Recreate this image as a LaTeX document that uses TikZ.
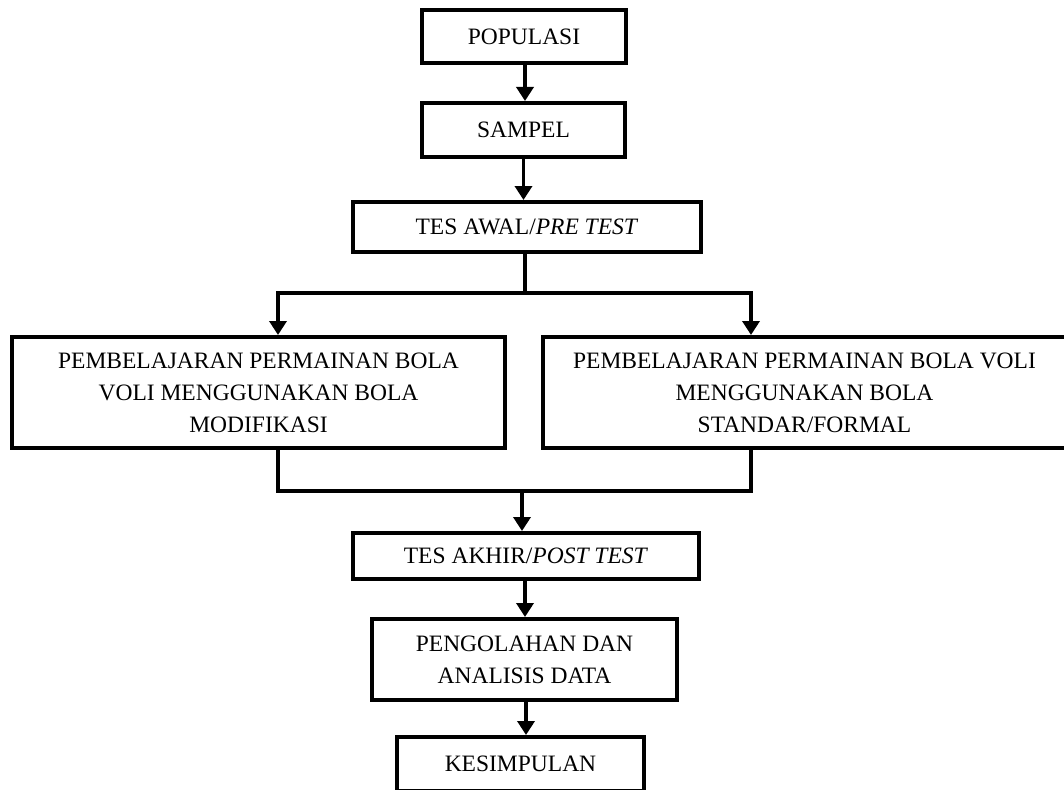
\documentclass[tikz,border=0pt]{standalone}
\usepackage{fontspec}
\setmainfont{Liberation Serif}
\usetikzlibrary{arrows.meta}
\begin{document}
\begin{tikzpicture}[x=1pt,y=-1pt,
  box/.style={draw, line width=4pt, inner sep=0pt, align=center,
    font=\fontsize{23.5}{32}\selectfont},
  conn/.style={line width=3.5pt},
  arr/.style={conn, -{Triangle[width=17pt,length=14pt]}}]
\fill[white] (0,0) rectangle (1064,789);
\useasboundingbox (0,0) rectangle (1064,789);
\node[box, minimum width=204pt, minimum height=53pt] (pop) at (524,36.5) {POPULASI};
\node[box, minimum width=203pt, minimum height=54pt] (sam) at (523.5,130) {SAMPEL};
\node[box, minimum width=348pt, minimum height=50pt] (awal) at (527,227) {TES AWAL/\textit{PRE TEST}};
\node[box, minimum width=493pt, minimum height=111pt] (left) at (258.5,392.5)
  {PEMBELAJARAN PERMAINAN BOLA\\VOLI MENGGUNAKAN BOLA\\MODIFIKASI};
\node[box, minimum width=523pt, minimum height=111pt] (right) at (804.5,392.5)
  {PEMBELAJARAN PERMAINAN BOLA VOLI\\MENGGUNAKAN BOLA\\STANDAR/FORMAL};
\node[box, minimum width=346pt, minimum height=46pt] (akhir) at (526,556) {TES AKHIR/\textit{POST TEST}};
\node[box, minimum width=305pt, minimum height=81pt] (olah) at (524.5,659.5)
  {PENGOLAHAN DAN\\ANALISIS DATA};
\node[box, minimum width=247pt, minimum height=54pt] (kes) at (520.5,764) {KESIMPULAN};
\coordinate (c1) at (525,0);
\coordinate (sp) at (525,293);
\coordinate (la) at (278,293);
\coordinate (ra) at (751,293);
\coordinate (ml) at (278,491);
\coordinate (mr) at (751,491);
\coordinate (mm) at (522,491);
\draw[arr] (pop.south -| c1) -- (sam.north -| c1);
\draw[arr] ([xshift=-1.5pt]sam.south -| c1) -- ([xshift=-1.5pt]awal.north -| c1);
\draw[conn] (awal.south -| sp) -- (sp);
\draw[conn, line cap=rect] (la) -- (ra);
\draw[arr] (la) -- (la |- left.north);
\draw[arr] (ra) -- (ra |- right.north);
\draw[conn, line cap=rect] (left.south -| ml) -- (ml) -- (mr) -- (right.south -| mr);
\draw[arr] (mm) -- (mm |- akhir.north);
\draw[arr] (akhir.south -| c1) -- (olah.north -| c1);
\draw[arr] ([xshift=1pt]olah.south -| c1) -- ([xshift=1pt]kes.north -| c1);
\end{tikzpicture}
\end{document}
